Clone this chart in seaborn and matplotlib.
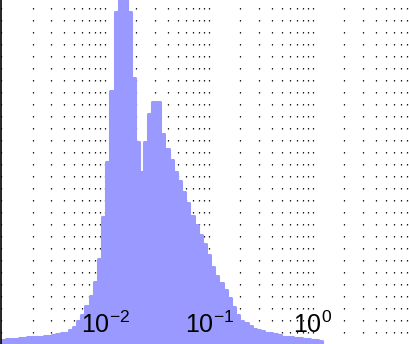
import numpy as np
import matplotlib
matplotlib.use("Agg")
import matplotlib.pyplot as plt
import seaborn as sns
from matplotlib.ticker import NullLocator

# histogram (0.04 decade bins, first edge at 10^-3.03)
log_start = -3.03
log_width = 0.04
counts = [70, 70, 80, 80, 80, 90, 90, 100, 100, 110,
          110, 120, 120, 130, 140, 150, 160, 190, 230, 300,
          380, 500, 620, 800, 1080, 1610, 2300, 3190, 4180, 4600,
          4750, 4180, 3360, 2550, 2180, 2550, 2900, 3050, 3050, 2650,
          2460, 2330, 2170, 2060, 1930, 1790, 1620, 1510, 1390, 1270,
          1130, 980, 870, 780, 690, 600, 480, 380, 310, 280,
          240, 210, 190, 180, 160, 150, 140, 130, 110, 100,
          100, 90, 90, 80, 80, 70, 70, 60]
x_ticks = [1e-2, 1e-1, 1e0]
x_ticklabels = [r'$10^{-2}$', r'$10^{-1}$', r'$10^{0}$']
y_ticks = [0, 1000, 2000, 3000, 4000]

sns.set_style("white")
plt.rcParams['font.family'] = ['Liberation Sans', 'DejaVu Sans']
plt.rcParams['mathtext.fontset'] = 'custom'
plt.rcParams['mathtext.rm'] = 'Liberation Sans'
plt.rcParams['mathtext.default'] = 'regular'

n_bins = len(counts)
centers = 10 ** (log_start + log_width * (np.arange(n_bins) + 0.5))

fig = plt.figure(figsize=(4.1, 3.44), dpi=100)
ax = fig.add_axes([1.3/410, -1.4/344, 1 - 1.3/410, 1 + 1.4/344])
sns.histplot(x=centers, weights=counts, bins=n_bins,
             binrange=(log_start, log_start + log_width*n_bins),
             log_scale=True, element='step', fill=True,
             color='#9999ff', edgecolor='#9999ff', alpha=1,
             linewidth=2.2, joinstyle='round', ax=ax)
ax.set_xlim(1e-3, 10**0.9336)
ax.set_ylim(0, 4334)
ax.set_xlabel('')
ax.set_ylabel('')

ax.set_axisbelow(True)
ax.grid(True, which='both', axis='x', color='black',
        linestyle=(0, (1.1, 8.5)), linewidth=0.9)
ax.grid(False, axis='y')
ax.tick_params(axis='x', which='both', length=0, labelbottom=False)
ax.set_yticks(y_ticks)
ax.tick_params(axis='y', direction='in', length=3.2, width=0.8,
               color='black', labelleft=False)
for s in ['top', 'right', 'bottom']:
    ax.spines[s].set_visible(False)
ax.spines['left'].set_linewidth(1.2)
ax.spines['left'].set_color('black')

# tick labels sit inside the axes, above the histogram
ax2 = ax.twiny()
ax2.set_xscale('log')
ax2.set_xlim(ax.get_xlim())
ax2.xaxis.set_ticks_position('bottom')
ax2.set_xticks(x_ticks, x_ticklabels)
ax2.xaxis.set_minor_locator(NullLocator())
ax2.tick_params(axis='x', length=0, pad=-24.5, labelsize=18,
                labelcolor='black')
for s in ax2.spines.values():
    s.set_visible(False)

fig.savefig('out.png', dpi=100)
